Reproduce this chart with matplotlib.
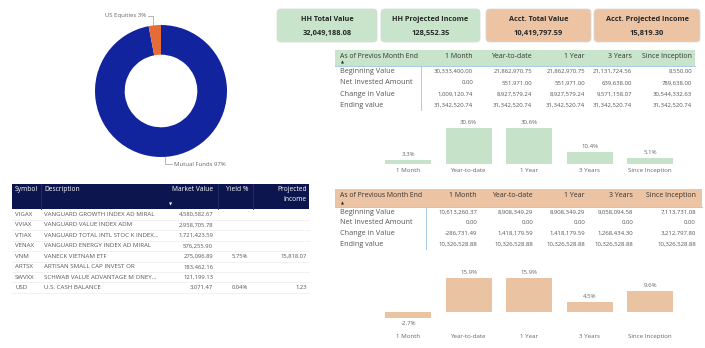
import matplotlib.pyplot as plt
from matplotlib.patches import FancyBboxPatch, Rectangle
import numpy as np

plt.rcParams['font.family'] = ['Open Sans', 'DejaVu Sans']

# ---- data ----
alloc_labels = ['Mutual Funds', 'US Equities']
alloc_pct = [97, 3]

kpi_titles = ['HH Total Value', 'HH Projected Income', 'Acct. Total Value', 'Acct. Projected Income']
kpi_values = ['32,049,188.08', '128,552.35', '10,419,797.59', '15,819.30']

hold_symbol = ['VIGAX', 'VVIAX', 'VTIAX', 'VENAX', 'VNM', 'ARTSX', 'SWVXX', 'USD']
hold_desc = ['VANGUARD GROWTH INDEX AD MIRAL', 'VANGUARD VALUE INDEX ADM',
             'VANGUARD TOTAL INTL STOC K INDEX...', 'VANGUARD ENERGY INDEX AD MIRAL',
             'VANECK VIETNAM ETF', 'ARTISAN SMALL CAP INVEST OR',
             'SCHWAB VALUE ADVANTAGE M ONEY...', 'U.S. CASH BALANCE']
hold_value = ['4,580,582.67', '2,958,705.78', '1,721,423.59', '576,255.90',
              '275,096.89', '183,462.16', '121,199.13', '3,071.47']
hold_yield = ['', '', '', '', '5.75%', '', '', '0.04%']
hold_income = ['', '', '', '', '15,818.07', '', '', '1.23']

periods = ['1 Month', 'Year-to-date', '1 Year', '3 Years', 'Since Inception']
row_labels = ['Beginning Value', 'Net Invested Amount', 'Change in Value', 'Ending value']

hh_table = [
    ['30,333,400.00', '21,862,970.75', '21,862,970.75', '21,131,724.56', '8,550.00'],
    ['0.00', '551,971.00', '551,971.00', '639,638.00', '789,638.00'],
    ['1,009,120.74', '8,927,579.24', '8,927,579.24', '9,571,158.07', '30,544,332.63'],
    ['31,342,520.74', '31,342,520.74', '31,342,520.74', '31,342,520.74', '31,342,520.74'],
]
hh_returns = [3.3, 30.6, 30.6, 10.4, 5.1]

acct_table = [
    ['10,613,260.37', '8,908,349.29', '8,908,349.29', '9,058,094.58', '7,113,731.08'],
    ['0.00', '0.00', '0.00', '0.00', '0.00'],
    ['-286,731.49', '1,418,179.59', '1,418,179.59', '1,268,434.30', '3,212,797.80'],
    ['10,326,528.88', '10,326,528.88', '10,326,528.88', '10,326,528.88', '10,326,528.88'],
]
acct_returns = [-2.7, 15.9, 15.9, 4.5, 9.6]

# ---- colours ----
NAVY = '#12239E'
ORANGE = '#E66C37'
GREEN = '#C8E5CB'
PEACH = '#ECC4A4'
GREEN_BAR = '#C6E2C8'
PEACH_BAR = '#EAC3A2'
HEADER_NAVY = '#0C154D'
TXT = '#555555'
LABEL = '#666666'

W, H = 705, 348
fig = plt.figure(figsize=(W / 100, H / 100), dpi=100)


def px_axes(x0, y0, x1, y1):
    return fig.add_axes([x0 / W, 1 - y1 / H, (x1 - x0) / W, (y1 - y0) / H])


# overlay in pixel coordinates for cards and tables
ov = fig.add_axes([0, 0, 1, 1])
ov.set_xlim(0, W)
ov.set_ylim(H, 0)
ov.axis('off')

# ---- donut ----
ax_d = px_axes(95, 25, 227, 157)
ax_d.pie(alloc_pct, colors=[NAVY, ORANGE], startangle=90, counterclock=False,
         radius=1, wedgeprops=dict(width=0.45, edgecolor='none'))
ax_d.set_xlim(-1, 1)
ax_d.set_ylim(-1, 1)
ax_d.set_aspect('auto')
ax_d.axis('off')

# label positions from wedge mid-angles
start = 90.0
for lab, pct in zip(alloc_labels, alloc_pct):
    span = pct / sum(alloc_pct) * 360
    mid = np.deg2rad(start - span / 2)
    start -= span
    x, y = np.cos(mid), np.sin(mid)
    ly = 1.14 if y > 0 else -1.11
    if x < 0:
        xs = [x * 1.3, x * 1.3, x * 1.3 - 0.07]
        ax_d.plot(xs, [y, ly, ly], color='#9a9a9a', lw=0.5, clip_on=False)
        ax_d.text(xs[-1] - 0.03, ly, f'{lab} {pct}%', ha='right', va='center',
                  fontsize=4.3, color=LABEL, clip_on=False)
    else:
        xs = [x * 0.65, x * 0.65, x * 0.65 + 0.11]
        ax_d.plot(xs, [y, ly, ly], color='#9a9a9a', lw=0.5, clip_on=False)
        ax_d.text(xs[-1] + 0.03, ly, f'{lab} {pct}%', ha='left', va='center',
                  fontsize=4.3, color=LABEL, clip_on=False)

# ---- KPI cards ----
card_x = [(277, 377), (381, 480), (486, 591), (594, 700)]
card_col = [GREEN, GREEN, PEACH, PEACH]
for (x0, x1), col, t, v in zip(card_x, card_col, kpi_titles, kpi_values):
    ov.add_patch(FancyBboxPatch((x0 + 3, 12), x1 - x0 - 6, 27,
                                boxstyle='round,pad=3,rounding_size=4',
                                fc=col, ec='#d9d9d9', lw=0.6))
    cx = (x0 + x1) / 2
    ov.text(cx, 19.5, t, ha='center', va='center', fontsize=5.2,
            fontweight='bold', color='#252525')
    ov.text(cx, 33, v, ha='center', va='center', fontsize=5.4,
            fontweight='bold', color='#252525')

# ---- holdings table ----
ov.add_patch(Rectangle((12, 184), 297, 25, fc=HEADER_NAVY, ec='none'))
for xs in [41, 218, 253]:
    ov.plot([xs, xs], [184, 209], color='#26306a', lw=0.6)
hy = 189.5
ov.text(15, hy, 'Symbol', fontsize=4.8, color='white', va='center')
ov.text(44, hy, 'Description', fontsize=4.8, color='white', va='center')
ov.text(213, hy, 'Market Value', fontsize=4.8, color='white', va='center', ha='right')
ov.text(226, hy, 'Yield %', fontsize=4.8, color='white', va='center')
ov.text(307, hy, 'Projected', fontsize=4.8, color='white', va='center', ha='right')
ov.text(307, 199.5, 'Income', fontsize=4.8, color='white', va='center', ha='right')
ov.text(171, 205, '▼', fontsize=3, color='white', va='center', ha='center')

row_h = 10.45
for i in range(len(hold_symbol)):
    y = 214.5 + i * row_h
    ov.plot([12, 309], [y + row_h / 2, y + row_h / 2], color='#ececec', lw=0.5)
    ov.text(15, y, hold_symbol[i], fontsize=4.4, color=TXT, va='center')
    ov.text(44, y, hold_desc[i], fontsize=4.4, color=TXT, va='center')
    ov.text(213, y, hold_value[i], fontsize=4.2, color=TXT, va='center', ha='right')
    ov.text(248, y, hold_yield[i], fontsize=4.2, color=TXT, va='center', ha='right')
    ov.text(307, y, hold_income[i], fontsize=4.2, color=TXT, va='center', ha='right')


# ---- performance tables ----
def perf_table(x0, x1, y0, y1, header_col, title, col_right, sep_x, row_y, rows):
    ov.add_patch(Rectangle((x0, y0), x1 - x0, y1 - y0, fc=header_col, ec='none'))
    ov.plot([x0, x1], [y1, y1], color='#a9cbe8', lw=0.7)
    ty = y0 + (y1 - y0) * 0.38
    ov.text(x0 + 5, ty, title, fontsize=4.95, color='#333333', va='center')
    ov.text(x0 + 7, y1 - 3.5, '▲', fontsize=2.8, color='#222222', va='center', ha='center')
    for cx, p in zip(col_right, periods):
        ov.text(cx, ty, p, fontsize=5.0, color='#333333', va='center', ha='right')
    ov.plot([sep_x, sep_x], [y1, row_y[-1] + 5], color='#a9cbe8', lw=0.7)
    for ry, lab, vals in zip(row_y, row_labels, rows):
        ov.text(x0 + 5, ry, lab, fontsize=5.2, color=TXT, va='center')
        for cx, v in zip(col_right, vals):
            ov.text(cx, ry, v, fontsize=4.3, color=TXT, va='center', ha='right')


perf_table(335, 695, 50, 66, GREEN, 'As of Previos Month End',
           [473, 532, 585, 632, 692], 421, [71.5, 82.8, 94, 105.2], hh_table)
perf_table(335, 702, 189, 207, PEACH, 'As of Previous Month End',
           [477, 533, 585, 633, 696], 426, [212, 223, 233.6, 244.2], acct_table)


# ---- return bar charts ----
def return_bars(ax, vals, col, ylim):
    x = np.arange(len(periods))
    ax.bar(x, vals, width=0.76, color=col)
    ax.set_xlim(-0.5, len(periods) - 0.5)
    ax.set_ylim(*ylim)
    ax.set_xticks(x)
    ax.set_xticklabels(periods, fontsize=4.4, color=LABEL)
    ax.tick_params(axis='x', length=0, pad=2.6)
    ax.set_yticks([])
    for s in ax.spines.values():
        s.set_visible(False)
    ax.patch.set_alpha(0)
    for xi, v in zip(x, vals):
        if v >= 0:
            ax.annotate(f'{v}%', (xi, v), xytext=(0, 2.2), textcoords='offset points',
                        ha='center', va='bottom', fontsize=4.4, color=LABEL)
        else:
            ax.annotate(f'{v}%', (xi, v), xytext=(0, -2.6), textcoords='offset points',
                        ha='center', va='top', fontsize=4.4, color=LABEL)


ax1 = px_axes(377.75, 118, 680.5, 164)
return_bars(ax1, hh_returns, GREEN_BAR, (0, 39.1))

ax2 = px_axes(377.75, 265, 680.5, 330)
return_bars(ax2, acct_returns, PEACH_BAR, (-8.33, 21.76))

fig.savefig('out.png', dpi=100)
